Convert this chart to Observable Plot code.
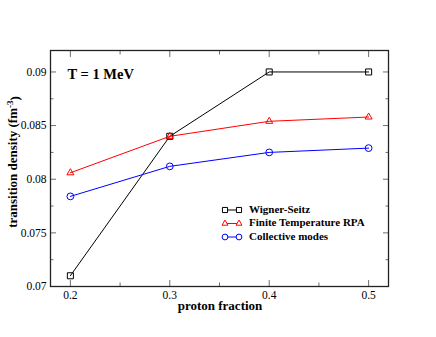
<!DOCTYPE html>
<html><head><meta charset="utf-8">
<script src="https://cdn.jsdelivr.net/npm/d3@7"></script>
<script src="https://cdn.jsdelivr.net/npm/@observablehq/plot@0.6"></script>
<style>
body{margin:0;background:#fff;}
#wrap{width:436px;height:337px;}
</style></head><body><div id="wrap"></div>
<script>
const protonFraction = [0.2, 0.3, 0.4, 0.5];
const wignerSeitz = [0.0710, 0.0840, 0.0900, 0.0900];
const finiteTempRPA = [0.0806, 0.0840, 0.0854, 0.0858];
const collectiveModes = [0.0784, 0.0812, 0.0825, 0.0829];
const seriesNames = ["Wigner-Seitz", "Finite Temperature RPA", "Collective modes"];
const seriesColors = ["#000000", "#ff0000", "#0000ff"];
const seriesSymbols = ["square", "triangle", "circle"];
const xMajorTicks = [0.2, 0.3, 0.4, 0.5];
const xTickLabels = ["0.2", "0.3", "0.4", "0.5"];
const xMinorTicks = [0.25, 0.35, 0.45];
const yMajorTicks = [0.07, 0.075, 0.08, 0.085, 0.09];
const yTickLabels = ["0.07", "0.075", "0.08", "0.085", "0.09"];
const yMinorTicks = [0.0725, 0.0775, 0.0825, 0.0875];
const annotation = "T = 1 MeV";
const xLabel = "proton fraction";
const yLabel = "transition density (fm";
const yLabelSup = "-3";

const seriesValues = [wignerSeitz, finiteTempRPA, collectiveModes];
const seriesData = seriesValues.map(vals => protonFraction.map((x, i) => ({x, y: vals[i]})));
const symbolR = {square: 3.4, triangle: 2.6, circle: 3.4};

const font = "'Liberation Serif', 'Times New Roman', serif";
const tickColor = "#6e6e6e";
const fmtX = d => xTickLabels[xMajorTicks.indexOf(d)];
const fmtY = d => yTickLabels[yMajorTicks.findIndex(t => Math.abs(t - d) < 1e-9)];

function inwardTicks(ticks, size) {
  const blank = () => "";
  return [
    Plot.axisX(ticks, {anchor: "bottom", tickSize: size, dy: -size, tickFormat: blank, label: null, stroke: tickColor}),
    Plot.axisX(ticks, {anchor: "top", tickSize: size, dy: size, tickFormat: blank, label: null, stroke: tickColor}),
  ];
}
function inwardTicksY(ticks, size) {
  const blank = () => "";
  return [
    Plot.axisY(ticks, {anchor: "left", tickSize: size, dx: size, tickFormat: blank, label: null, stroke: tickColor}),
    Plot.axisY(ticks, {anchor: "right", tickSize: size, dx: -size, tickFormat: blank, label: null, stroke: tickColor}),
  ];
}

const plot = Plot.plot({
  width: 436, height: 337,
  marginLeft: 50, marginRight: 48, marginTop: 50, marginBottom: 51,
  x: {domain: [0.18, 0.52]},
  y: {domain: [0.07, 0.092]},
  style: {fontFamily: font, fontSize: "11.5px", background: "white", color: "#000"},
  marks: [
    ...inwardTicks(xMajorTicks, 6),
    ...inwardTicks(xMinorTicks, 3.5),
    ...inwardTicksY(yMajorTicks, 6),
    ...inwardTicksY(yMinorTicks, 3.5),
    Plot.axisX(xMajorTicks, {anchor: "bottom", tickSize: 0, tickPadding: 4, tickFormat: fmtX, label: null, fontSize: 11.5}),
    Plot.axisY(yMajorTicks, {anchor: "left", tickSize: 0, tickPadding: 4, tickFormat: fmtY, label: null, fontSize: 11.5}),
    Plot.frame({stroke: "#222", strokeWidth: 1.3}),
    ...seriesData.map((data, k) => Plot.line(data, {x: "x", y: "y", stroke: seriesColors[k], strokeWidth: 1})),
    ...seriesData.map((data, k) => Plot.dot(data, {x: "x", y: "y", symbol: seriesSymbols[k], r: symbolR[seriesSymbols[k]], stroke: seriesColors[k], fill: "none", strokeWidth: 1})),
    Plot.text([annotation], {text: d => d, frameAnchor: "top-left", dx: 17, dy: 24, textAnchor: "start", lineAnchor: "middle", fontWeight: "bold", fontSize: 14.5})
  ]
});
document.getElementById("wrap").append(plot);

const svg = d3.select(plot);
// axis titles
svg.append("text")
  .attr("x", 220).attr("y", 307).attr("text-anchor", "middle").attr("dominant-baseline", "middle")
  .style("font", `bold 13px ${font}`).text(xLabel);
const yl = svg.append("text")
  .attr("transform", "translate(17,162) rotate(-90)").attr("text-anchor", "middle")
  .style("font", `bold 13px ${font}`);
yl.append("tspan").text(yLabel);
yl.append("tspan").attr("dy", "-0.5em").style("font-size", "9px").text(yLabelSup);
yl.append("tspan").attr("dy", "0.5em").text(")");

// legend
const lg = svg.append("g").attr("text-anchor", "start");
seriesNames.forEach((name, k) => {
  const y = 210 + k * 13.5;
  const sym = d3.symbol().type({square: d3.symbolSquare, triangle: d3.symbolTriangle, circle: d3.symbolCircle}[seriesSymbols[k]])
    .size(Math.PI * Math.pow(symbolR[seriesSymbols[k]] * 0.85, 2));
  lg.append("line").attr("x1", 225).attr("x2", 239).attr("y1", y).attr("y2", y).attr("stroke", seriesColors[k]);
  [225, 239].forEach(cx => lg.append("path").attr("d", sym()).attr("transform", `translate(${cx},${y})`)
    .attr("fill", "white").attr("stroke", seriesColors[k]));
  lg.append("text").attr("x", 249).attr("y", y).attr("dominant-baseline", "middle").attr("text-anchor", "start")
    .style("font", `bold 11px ${font}`).text(name);
});
</script></body></html>
